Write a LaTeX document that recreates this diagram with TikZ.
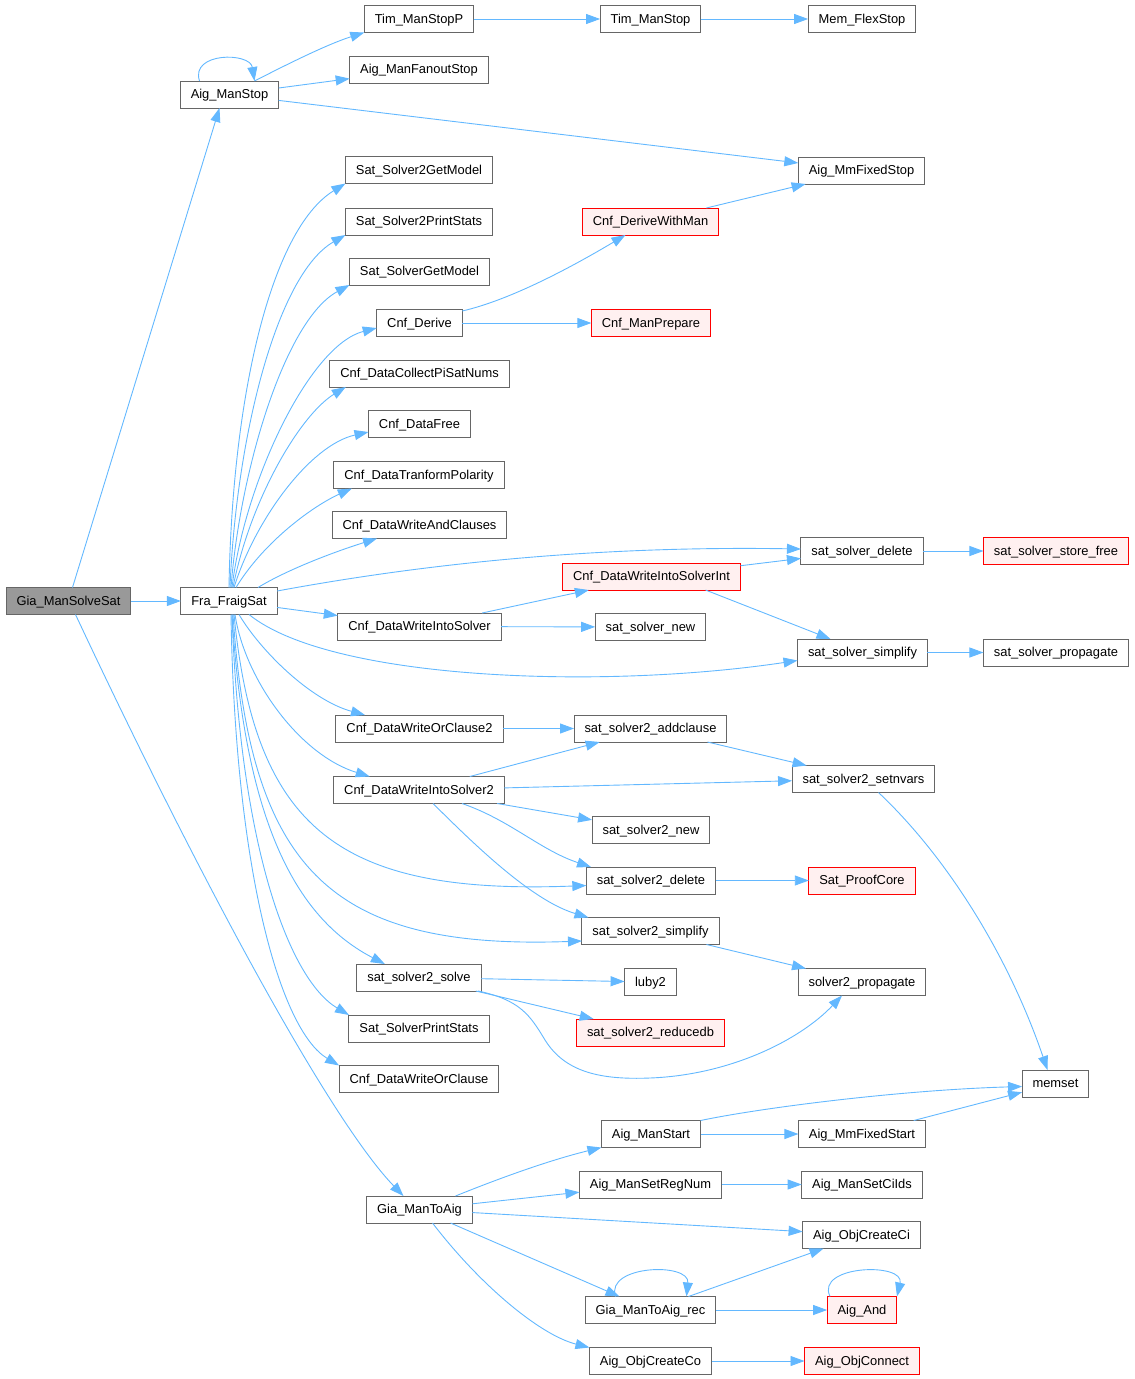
\documentclass[tikz,border=0pt]{standalone}
\usepackage{fontspec}
\setmainfont{Liberation Sans}
\usepackage{tikz}
\usetikzlibrary{calc,arrows.meta}
\definecolor{edgeblue}{HTML}{63B8FF}
\definecolor{nodegray}{HTML}{666666}
\definecolor{rootgray}{HTML}{999999}
\definecolor{undocpink}{HTML}{FFF0F0}

\begin{document}
\begin{tikzpicture}[x=1pt,y=-1pt,every node/.style={draw=nodegray,fill=white,outer sep=0pt,line width=1pt,inner xsep=10.5pt,inner ysep=0pt,minimum height=27pt,text height=9.2pt,text depth=1pt,font=\fontsize{12.9}{15}\selectfont}]
\tikzstyle{call}=[draw=edgeblue,line width=0.9pt,-{Triangle[length=14pt,width=10pt]}]
\tikzstyle{caller}=[fill=rootgray]
\tikzstyle{undoc}=[draw=red,fill=undocpink]

\useasboundingbox (0,0) rectangle (1135,1379);

\node (root_node) at (68.5,601) [caller] {Gia\_ManSolveSat};
\node (fraig_node) at (229,601) {Fra\_FraigSat};
\node (aigstop_node) at (229.5,94.5) {Aig\_ManStop};
\node (timstopp_node) at (419,19) {Tim\_ManStopP};
\node (timstop_node) at (650.5,19) {Tim\_ManStop};
\node (memflex_node) at (862,19) {Mem\_FlexStop};
\node (fanout_node) at (419,69.5) {Aig\_ManFanoutStop};
\node (mmfixstop_node) at (861.5,170.5) {Aig\_MmFixedStop};
\node (s2getmodel_node) at (419,170) {Sat\_Solver2GetModel};
\node (s2stats_node) at (419,221.5) {Sat\_Solver2PrintStats};
\node (sgetmodel_node) at (419.5,271.5) {Sat\_SolverGetModel};
\node (derive_node) at (419.5,323) {Cnf\_Derive};
\node (withman_node) at (650.5,221.5) [undoc] {Cnf\_DeriveWithMan};
\node (prepare_node) at (651,323) [undoc] {Cnf\_ManPrepare};
\node (collect_node) at (419.5,373.5) {Cnf\_DataCollectPiSatNums};
\node (free_node) at (419.5,424) {Cnf\_DataFree};
\node (polar_node) at (419,475) {Cnf\_DataTranformPolarity};
\node (andcl_node) at (419.5,525) {Cnf\_DataWriteAndClauses};
\node (ssdel_node) at (862,551) {sat\_solver\_delete};
\node (storefree_node) at (1056,551) [undoc] {sat\_solver\_store\_free};
\node (intoint_node) at (651.5,576.5) [undoc] {Cnf\_DataWriteIntoSolverInt};
\node (into_node) at (419.5,626.5) {Cnf\_DataWriteIntoSolver};
\node (ssnew_node) at (650.5,627) {sat\_solver\_new};
\node (sssimp_node) at (862.5,652.5) {sat\_solver\_simplify};
\node (ssprop_node) at (1056,652.5) {sat\_solver\_propagate};
\node (orcl2_node) at (419.5,728.5) {Cnf\_DataWriteOrClause2};
\node (s2addcl_node) at (650.5,728.5) {sat\_solver2\_addclause};
\node (s2nvars_node) at (863.5,779) {sat\_solver2\_setnvars};
\node (into2_node) at (419,790) {Cnf\_DataWriteIntoSolver2};
\node (s2new_node) at (651,830) {sat\_solver2\_new};
\node (s2del_node) at (651,880.5) {sat\_solver2\_delete};
\node (proof_node) at (862,880.5) [undoc] {Sat\_ProofCore};
\node (s2simp_node) at (650.5,931) {sat\_solver2\_simplify};
\node (s2solve_node) at (419,977.5) {sat\_solver2\_solve};
\node (luby_node) at (650.5,982) {luby2};
\node (s2prop_node) at (862,982) {solver2\_propagate};
\node (s2reduce_node) at (650.5,1032.5) [undoc] {sat\_solver2\_reducedb};
\node (sstats_node) at (419,1028.5) {Sat\_SolverPrintStats};
\node (orcl_node) at (419,1079) {Cnf\_DataWriteOrClause};
\node (memset_node) at (1055.5,1083.5) {memset};
\node (manstart_node) at (651,1134) {Aig\_ManStart};
\node (mmfixstart_node) at (862,1134) {Aig\_MmFixedStart};
\node (regnum_node) at (650.5,1184.5) {Aig\_ManSetRegNum};
\node (ciids_node) at (862,1184.5) {Aig\_ManSetCiIds};
\node (toaig_node) at (419.5,1209.5) {Gia\_ManToAig};
\node (createci_node) at (861.5,1235) {Aig\_ObjCreateCi};
\node (toaigrec_node) at (650.5,1310) {Gia\_ManToAig\_rec};
\node (and_node) at (862,1310) [undoc] {Aig\_And};
\node (createco_node) at (650.5,1361) {Aig\_ObjCreateCo};
\node (connect_node) at (862,1361) [undoc] {Aig\_ObjConnect};

\draw [call] (root_node) -- (fraig_node);
\draw [call] ($(root_node.north)+(4,0)$) -- ($(aigstop_node.south)+(-10,0)$);
\draw [call] ($(root_node.south)+(7,0)$) .. controls (200,880) and (330,1120) .. ($(toaig_node.north)+(-16,0)$);

\draw [call] ($(aigstop_node.north)+(-30,0)$) .. controls (190,52) and (250,52) .. ($(aigstop_node.north)+(25,0)$);
\draw [call] ($(aigstop_node.north)+(25,0)$) .. controls (280,68) and (325,45) .. (timstopp_node.south west);
\draw [call] (aigstop_node) -- (fanout_node);
\draw [call] (aigstop_node) -- (mmfixstop_node);
\draw [call] (timstopp_node) -- (timstop_node);
\draw [call] (timstop_node) -- (memflex_node);

\draw [call] (fraig_node.north) .. controls (232,400) and (270,230) .. (s2getmodel_node.south west);
\draw [call] ($(fraig_node.north)+(1,0)$) .. controls (236,440) and (276,275) .. (s2stats_node.south west);
\draw [call] ($(fraig_node.north)+(2,0)$) .. controls (240,470) and (285,320) .. (sgetmodel_node.south west);
\draw [call] ($(fraig_node.north)+(3,0)$) .. controls (245,480) and (310,345) .. ($(derive_node.west)+(0,5)$);
\draw [call] ($(fraig_node.north)+(4,0)$) .. controls (250,500) and (300,415) .. ($(collect_node.south west)+(16,0)$);
\draw [call] ($(fraig_node.north)+(5,0)$) .. controls (255,520) and (310,445) .. ($(free_node.west)+(0,8)$);
\draw [call] ($(fraig_node.north)+(7,0)$) .. controls (265,540) and (315,505) .. ($(polar_node.south west)+(18,0)$);
\draw [call] ($(fraig_node.north)+(29,0)$) .. controls (290,568) and (340,550) .. ($(andcl_node.south west)+(45,0)$);
\draw [call] ($(fraig_node.east)+(0,-10)$) .. controls (380,572) and (560,545) .. ($(ssdel_node.west)+(0,-2)$);
\draw [call] (fraig_node) -- (into_node);
\draw [call] ($(fraig_node.south)+(20,0)$) .. controls (330,680) and (600,690) .. ($(sssimp_node.west)+(0,8)$);
\draw [call] ($(fraig_node.south)+(10,0)$) .. controls (260,650) and (310,700) .. ($(orcl2_node.north west)+(29,0)$);
\draw [call] ($(fraig_node.south)+(6,0)$) .. controls (245,680) and (300,755) .. ($(into2_node.north west)+(36,0)$);
\draw [call] ($(fraig_node.south)+(5,0)$) .. controls (255,830) and (340,895) .. ($(s2del_node.west)+(0,5)$);
\draw [call] ($(fraig_node.south)+(4,0)$) .. controls (250,870) and (330,950) .. ($(s2simp_node.west)+(0,10)$);
\draw [call] ($(fraig_node.south)+(3,0)$) .. controls (245,830) and (300,920) .. ($(s2solve_node.north west)+(28,0)$);
\draw [call] ($(fraig_node.south)+(3,0)$) .. controls (240,850) and (290,980) .. (sstats_node.north west);
\draw [call] ($(fraig_node.south)+(2,0)$) .. controls (235,870) and (280,1030) .. (orcl_node.north west);

\draw [call] ($(derive_node.east)+(0,-12)$) .. controls (510,300) and (570,268) .. ($(withman_node.south)+(-25,0)$);
\draw [call] (derive_node) -- (prepare_node);
\draw [call] (withman_node) -- (mmfixstop_node);

\draw [call] (into_node) -- (intoint_node);
\draw [call] (into_node) -- (ssnew_node);
\draw [call] (intoint_node) -- (ssdel_node);
\draw [call] ($(intoint_node.south)+(54,0)$) -- ($(sssimp_node.north)+(-32,0)$);
\draw [call] (ssdel_node) -- (storefree_node);
\draw [call] (sssimp_node) -- (ssprop_node);

\draw [call] (orcl2_node) -- (s2addcl_node);
\draw [call] (s2addcl_node) -- (s2nvars_node);
\draw [call] (into2_node) -- (s2addcl_node);
\draw [call] (into2_node) -- (s2nvars_node);
\draw [call] (into2_node) -- (s2new_node);
\draw [call] ($(into2_node.south)+(43,0)$) .. controls (510,820) and (540,850) .. ($(s2del_node.north)+(-60,0)$);
\draw [call] ($(into2_node.south)+(14,0)$) .. controls (470,840) and (530,900) .. ($(s2simp_node.north)+(-62,0)$);
\draw [call] ($(s2nvars_node.south)+(15,0)$) .. controls (950,860) and (1010,960) .. ($(memset_node.north)+(-8,0)$);
\draw [call] (s2del_node) -- (proof_node);
\draw [call] (s2simp_node) -- (s2prop_node);

\draw [call] (s2solve_node) -- (luby_node);
\draw [call] (s2solve_node) -- (s2reduce_node);
\draw [call] ($(s2solve_node.south east)+(-3,0)$) .. controls (520,1000) and (530,1015) .. (545,1040) .. controls (565,1072) and (600,1080) .. (650,1078) .. controls (730,1075) and (800,1040) .. ($(s2prop_node.south)+(-20,0)$);

\draw [call] ($(toaig_node.north)+(36,0)$) .. controls (500,1178) and (550,1160) .. (manstart_node.south west);
\draw [call] (toaig_node) -- (regnum_node);
\draw [call] (toaig_node) -- (createci_node);
\draw [call] (toaig_node) -- (toaigrec_node);
\draw [call] ($(toaig_node.south)+(13,0)$) .. controls (480,1285) and (540,1335) .. (createco_node.north west);
\draw [call] (manstart_node.north east) .. controls (760,1108) and (900,1090) .. ($(memset_node.west)+(0,3)$);
\draw [call] (manstart_node) -- (mmfixstart_node);
\draw [call] (mmfixstart_node) -- (memset_node);
\draw [call] (regnum_node) -- (ciids_node);
\draw [call] ($(toaigrec_node.north)+(-35,0)$) .. controls (605,1265) and (690,1262) .. ($(toaigrec_node.north)+(36,0)$);
\draw [call] (toaigrec_node) -- (createci_node);
\draw [call] (toaigrec_node) -- (and_node);
\draw [call] ($(and_node.north)+(-32,0)$) .. controls (815,1265) and (905,1262) .. ($(and_node.north)+(35,0)$);
\draw [call] (createco_node) -- (connect_node);

\end{tikzpicture}
\end{document}
